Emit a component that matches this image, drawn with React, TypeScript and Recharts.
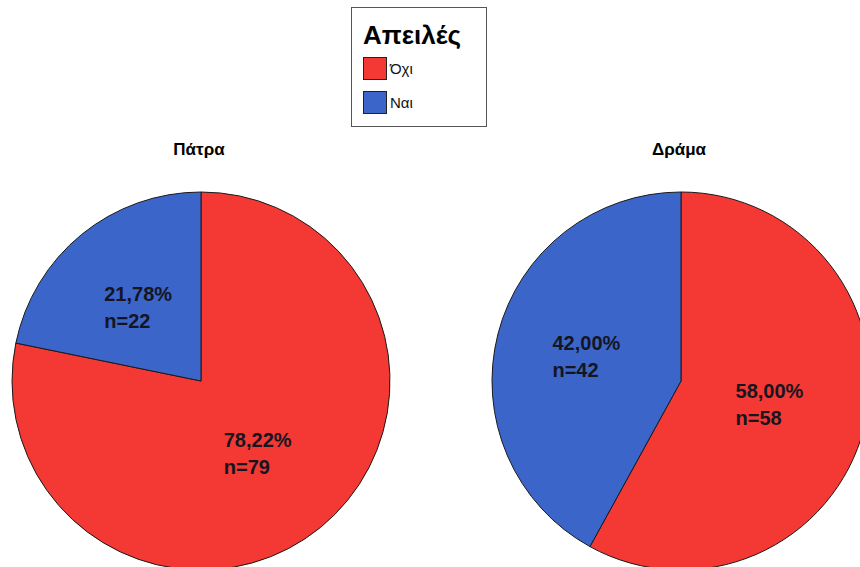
import React from 'react';
import { PieChart, Pie, Cell, Legend } from 'recharts';

const categories = ['Όχι', 'Ναι'];
const colors = ['#f43833', '#3b65c9'];
const patraValues = [79, 22];
const dramaValues = [58, 42];
const groupTitles = ['Πάτρα', 'Δράμα'];
const legendTitle = 'Απειλές';

const patraData = categories.map((name, i) => ({ name, value: patraValues[i] }));
const dramaData = categories.map((name, i) => ({ name, value: dramaValues[i] }));

const RAD = Math.PI / 180;
const RADIUS = 189;

const renderLabel = (props: any) => {
  const { cx, cy, midAngle, outerRadius, percent, value } = props;
  const r = outerRadius * 0.5;
  const x = cx + r * Math.cos(-midAngle * RAD);
  const y = cy + r * Math.sin(-midAngle * RAD);
  const pct = (percent * 100).toFixed(2).replace('.', ',') + '%';
  return (
    <text
      x={x - 37}
      y={y - 7}
      textAnchor="start"
      fill="#15151f"
      fontFamily="'Liberation Sans', Arial, sans-serif"
      fontWeight="bold"
      fontSize={20}
    >
      <tspan x={x - 37} y={y - 7}>{pct}</tspan>
      <tspan x={x - 37} y={y + 20}>{`n=${value}`}</tspan>
    </text>
  );
};

const LegendBox = () => (
  <div
    style={{
      width: 136,
      height: 120,
      border: '1px solid #555',
      boxSizing: 'border-box',
      padding: '12px 0 0 11px',
      background: '#fff',
      textAlign: 'left',
    }}
  >
    <div
      style={{
        fontFamily: "'Liberation Sans', Arial, sans-serif",
        fontWeight: 'bold',
        fontSize: 26,
        lineHeight: '30px',
        color: '#000',
        marginBottom: 6,
      }}
    >
      {legendTitle}
    </div>
    {categories.map((c, i) => (
      <div key={c} style={{ display: 'flex', alignItems: 'center', height: 24, marginBottom: 10 }}>
        <span
          style={{
            width: 24,
            height: 23,
            background: colors[i],
            border: '1px solid #222',
            boxSizing: 'border-box',
            marginRight: 3,
          }}
        />
        <span
          style={{
            fontFamily: "'Liberation Sans Narrow', 'Liberation Sans', Arial, sans-serif",
            fontSize: 15,
            color: '#111',
          }}
        >
          {c}
        </span>
      </div>
    ))}
  </div>
);

const titleStyle: React.CSSProperties = {
  position: 'absolute',
  top: 140,
  width: 200,
  textAlign: 'center',
  fontFamily: "'Liberation Sans', Arial, sans-serif",
  fontWeight: 'bold',
  fontSize: 17,
  color: '#000',
};

export default function App() {
  return (
    <div style={{ position: 'absolute', left: 0, top: 0, width: 860, height: 567, background: '#fff', overflow: 'hidden' }}>
      <PieChart width={860} height={567} margin={{ top: 0, right: 0, bottom: 0, left: 0 }}>
        <Legend
          content={() => <LegendBox />}
          layout="vertical"
          verticalAlign="middle"
          align="center"
          wrapperStyle={{ left: 351, top: 7, width: 136 }}
        />
        <Pie
          data={patraData}
          dataKey="value"
          nameKey="name"
          cx={201}
          cy={381}
          outerRadius={RADIUS}
          startAngle={90}
          endAngle={-270}
          stroke="#1a1a1a"
          strokeWidth={1}
          label={renderLabel}
          labelLine={false}
          isAnimationActive={false}
        >
          {patraData.map((d, i) => (
            <Cell key={d.name} fill={colors[i]} />
          ))}
        </Pie>
        <Pie
          data={dramaData}
          dataKey="value"
          nameKey="name"
          cx={681}
          cy={381}
          outerRadius={RADIUS}
          startAngle={90}
          endAngle={-270}
          stroke="#1a1a1a"
          strokeWidth={1}
          label={renderLabel}
          labelLine={false}
          isAnimationActive={false}
        >
          {dramaData.map((d, i) => (
            <Cell key={d.name} fill={colors[i]} />
          ))}
        </Pie>
      </PieChart>
      <div style={{ ...titleStyle, left: 99 }}>{groupTitles[0]}</div>
      <div style={{ ...titleStyle, left: 579 }}>{groupTitles[1]}</div>
    </div>
  );
}
